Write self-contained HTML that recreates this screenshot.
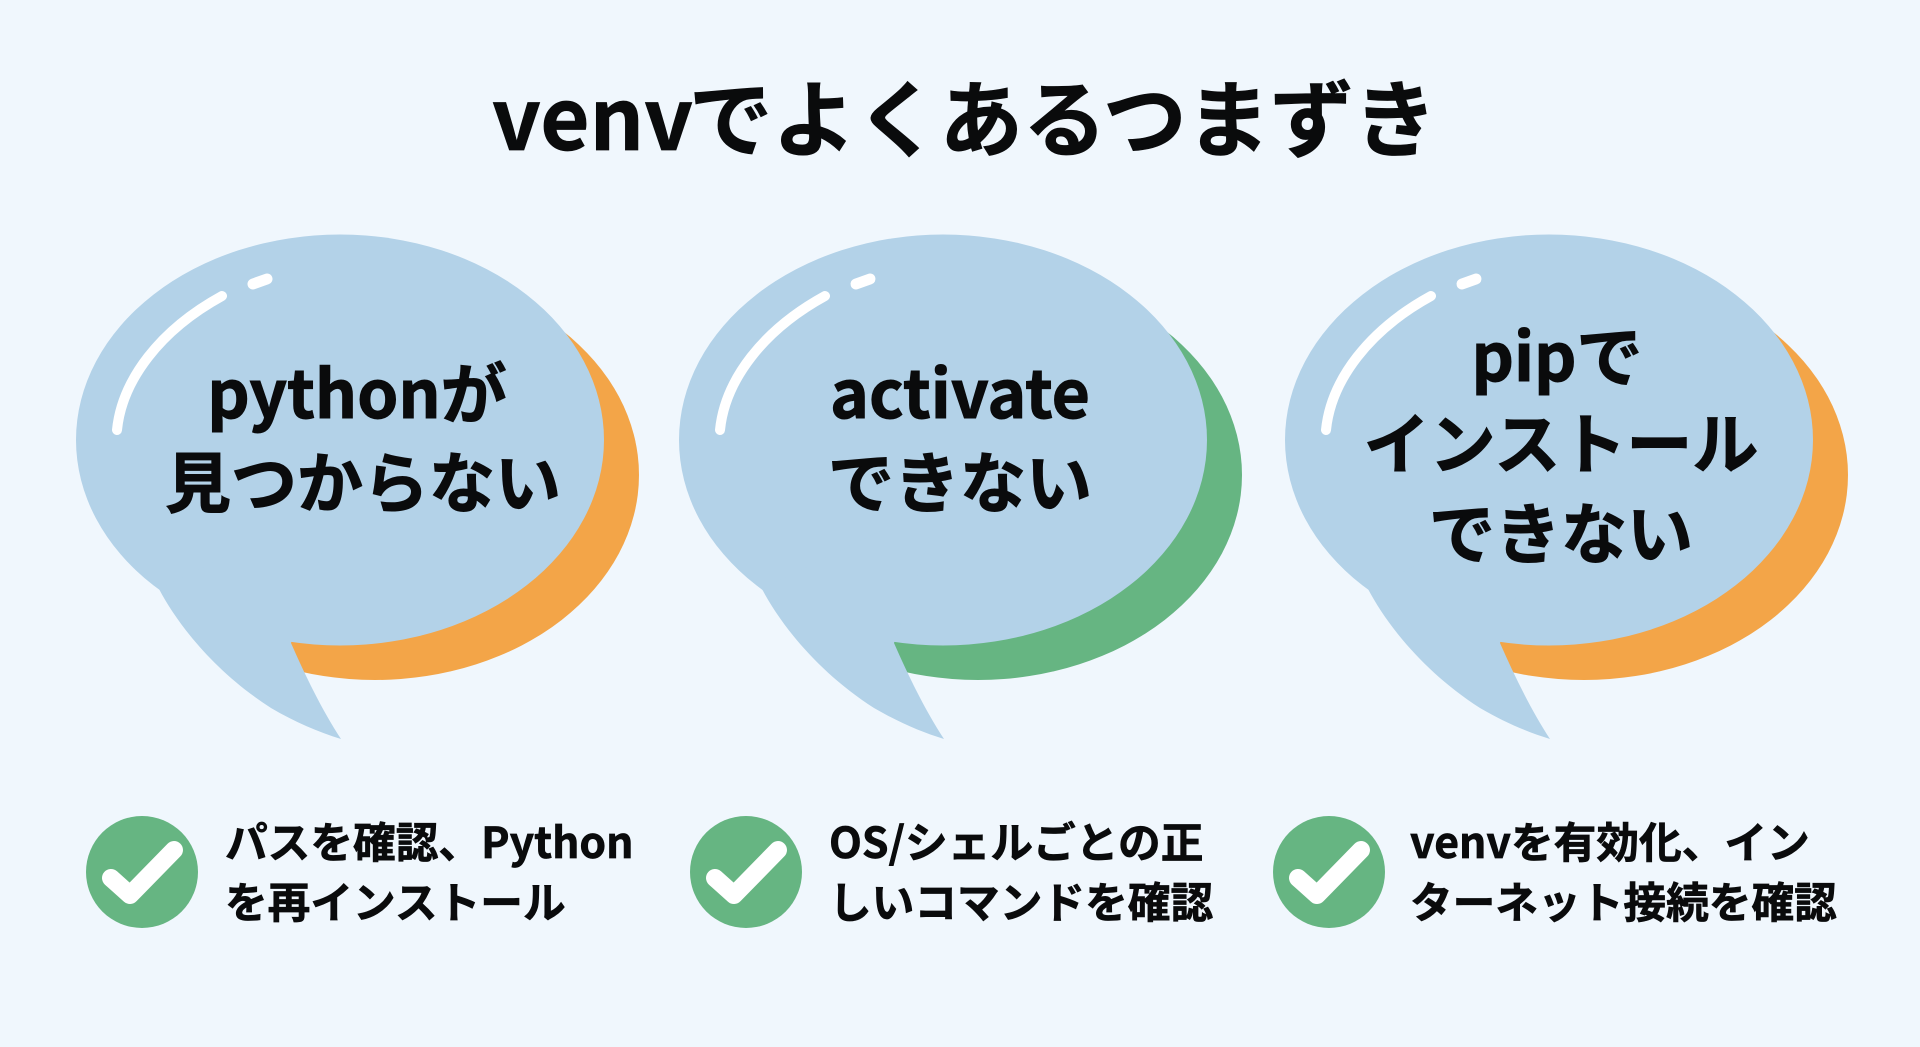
<!DOCTYPE html>
<html lang="ja"><head><meta charset="utf-8"><title>venvでよくあるつまずき</title>
<style>
html,body{margin:0;padding:0;width:1920px;height:1047px;overflow:hidden;background:#f0f7fd}
svg{display:block}
.t{font-family:"Noto Sans CJK JP",sans-serif;font-weight:700;fill:#0a0b0c;stroke:#0a0b0c;stroke-width:.7}
.b{font-size:66px;text-anchor:middle;stroke-width:1}
.s{font-size:42.7px}
.h{fill:none;stroke:#fff;stroke-linecap:round}
.c{fill:none;stroke:#fff;stroke-width:18;stroke-linejoin:round;stroke-linecap:round}
</style></head><body>
<svg width="1920" height="1047" viewBox="0 0 1920 1047" xmlns="http://www.w3.org/2000/svg">
<defs>
<clipPath id="cl"><rect x="285" y="200" width="400" height="520"/></clipPath>
</defs>
<rect width="1920" height="1047" fill="#f0f7fd"/>
<text class="t" x="492" y="150" font-size="85" stroke-width="1">venv</text>
<text class="t" x="689" y="150" font-size="83.5" stroke-width="1">でよくあるつまずき</text>

<!-- Bubble 1 -->
<g>
<ellipse cx="375" cy="475" rx="264" ry="205" fill="#f3a548" clip-path="url(#cl)"/>
<ellipse cx="340" cy="440" rx="264" ry="205.5" fill="#b3d2e8"/>
<path d="M159 589C178 625 215 672 271 708C295 722 318 732 341 739C322 710 305 675 291 643L340 500Z" fill="#b3d2e8"/>
<path class="h" stroke-width="10" d="M117 430C122 380 160 330 222 296"/>
<path class="h" stroke-width="11" d="M253 284L267 279"/>
</g>
<text class="t b" x="357" y="418">pythonが</text>
<text class="t b" x="363" y="507">見つからない</text>

<!-- Bubble 2 -->
<g transform="translate(603 0)">
<ellipse cx="375" cy="475" rx="264" ry="205" fill="#66b582" clip-path="url(#cl)"/>
<ellipse cx="340" cy="440" rx="264" ry="205.5" fill="#b3d2e8"/>
<path d="M159 589C178 625 215 672 271 708C295 722 318 732 341 739C322 710 305 675 291 643L340 500Z" fill="#b3d2e8"/>
<path class="h" stroke-width="10" d="M117 430C122 380 160 330 222 296"/>
<path class="h" stroke-width="11" d="M253 284L267 279"/>
</g>
<text class="t b" x="960" y="418">activate</text>
<text class="t b" x="960" y="507">できない</text>

<!-- Bubble 3 -->
<g transform="translate(1209 0)">
<ellipse cx="375" cy="475" rx="264" ry="205" fill="#f3a548" clip-path="url(#cl)"/>
<ellipse cx="340" cy="440" rx="264" ry="205.5" fill="#b3d2e8"/>
<path d="M159 589C178 625 215 672 271 708C295 722 318 732 341 739C322 710 305 675 291 643L340 500Z" fill="#b3d2e8"/>
<path class="h" stroke-width="10" d="M117 430C122 380 160 330 222 296"/>
<path class="h" stroke-width="11" d="M253 284L267 279"/>
</g>
<text class="t b" x="1557" y="381">pipで</text>
<text class="t b" x="1561" y="468">インストール</text>
<text class="t b" x="1561" y="558">できない</text>

<!-- Row 1 -->
<circle cx="142" cy="872" r="56" fill="#66b582"/>
<path class="c" d="M111 878L130 895L174 850"/>
<text class="t s" x="225" y="858">パスを確認、Python</text>
<text class="t s" x="225" y="918">を再インストール</text>

<!-- Row 2 -->
<circle cx="746" cy="872" r="56" fill="#66b582"/>
<path class="c" d="M715 878L734 895L778 850"/>
<text class="t s" x="829" y="858">OS/シェルごとの正</text>
<text class="t s" x="829" y="918">しいコマンドを確認</text>

<!-- Row 3 -->
<circle cx="1329" cy="872" r="56" fill="#66b582"/>
<path class="c" d="M1298 878L1317 895L1361 850"/>
<text class="t s" x="1410" y="858">venvを有効化、イン</text>
<text class="t s" x="1410" y="918">ターネット接続を確認</text>
</svg>
</body></html>
